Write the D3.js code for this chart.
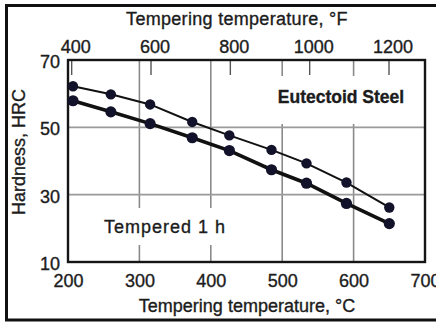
<!DOCTYPE html>
<html lang="en">
<head>
<meta charset="UTF-8">
<title>Eutectoid Steel tempering</title>
<script src="https://d3js.org/d3.v7.min.js"></script>
<style>
    body { margin: 0; background: #fff; }
    svg text { font-family: "Liberation Sans", Arial, sans-serif; fill: #1c1c1c; stroke: #1c1c1c; stroke-width: 0.35px; }
    .tick text { font-size: 18px; }
    .title { font-size: 18px; }
</style>
</head>
<body>
<svg width="436" height="324"></svg>
<script>
    // temperatures (deg C) and hardness (HRC)
    const tempC = [207, 260, 315, 374, 426, 485, 534, 590, 650];
    const hrcUpper = [62.2, 59.8, 56.8, 51.6, 47.6, 43.3, 39.3, 33.6, 26.2];
    const hrcLower = [57.9, 54.6, 51.1, 46.9, 43.1, 37.4, 33.4, 27.4, 21.4];

    const ticksC = [200, 300, 400, 500, 600, 700];
    const ticksF = [400, 600, 800, 1000, 1200];
    const ticksHRC = [10, 30, 50, 70];
    const gridC = [300, 400, 500, 600];
    const gridHRC = [30, 50];

    const svg = d3.select("svg");

    // outer frame of the figure
    svg.append("rect")
        .attr("x", 6.5).attr("y", 5.5).attr("width", 440).attr("height", 314.5)
        .attr("fill", "none").attr("stroke", "#111").attr("stroke-width", 3);

    const x = d3.scaleLinear().domain([200, 700]).range([68, 425]);
    const y = d3.scaleLinear().domain([10, 70]).range([262, 60]);
    const xF = d3.scaleLinear().domain([200 * 9 / 5 + 32, 700 * 9 / 5 + 32]).range([68, 425]);

    // grid
    svg.append("g").selectAll("line").data(gridC).enter().append("line")
        .attr("x1", d => x(d)).attr("x2", d => x(d))
        .attr("y1", y(70)).attr("y2", y(10))
        .attr("stroke", "#8a8a8a").attr("stroke-width", 1.6);
    svg.append("g").selectAll("line").data(gridHRC).enter().append("line")
        .attr("x1", x(200)).attr("x2", x(700))
        .attr("y1", d => y(d)).attr("y2", d => y(d))
        .attr("stroke", "#9a9a9a").attr("stroke-width", 1.8);

    // white boxes behind the notes
    svg.append("rect").attr("x", 262).attr("y", 76).attr("width", 156).attr("height", 48).attr("fill", "#fff");
    svg.append("rect").attr("x", 98).attr("y", 208).attr("width", 134).attr("height", 37).attr("fill", "#fff");

    // axes
    svg.append("g").attr("transform", "translate(0,262)")
        .call(d3.axisBottom(x).tickValues(ticksC).tickSize(0).tickPadding(12).tickFormat(d3.format("d")))
        .call(g => g.select(".domain").remove());
    svg.append("g").attr("transform", "translate(68,0)")
        .call(d3.axisLeft(y).tickValues(ticksHRC).tickSize(0).tickPadding(8))
        .call(g => g.select(".domain").remove())
        .call(g => g.selectAll(".tick text").attr("dy", "0.42em"));
    svg.append("g").attr("transform", "translate(0,60)")
        .call(d3.axisTop(xF).tickValues(ticksF).tickSize(-15).tickPadding(7).tickFormat(d3.format("d")))
        .call(g => g.select(".domain").remove())
        .call(g => g.selectAll(".tick text").attr("dx", 4))
        .call(g => g.selectAll(".tick line").attr("stroke", "#555").attr("stroke-width", 1.4));

    // plot frame
    svg.append("rect")
        .attr("x", x(200)).attr("y", y(70))
        .attr("width", x(700) - x(200)).attr("height", y(10) - y(70))
        .attr("fill", "none").attr("stroke", "#151515").attr("stroke-width", 2.4);

    // series
    const series = [
        { values: hrcUpper, width: 2, r: 5.2 },
        { values: hrcLower, width: 3.6, r: 5.6 }
    ];
    const line = d3.line().x(d => x(d[0])).y(d => y(d[1]));
    series.forEach(s => {
        const pts = tempC.map((t, i) => [t, s.values[i]]);
        svg.append("path").datum(pts)
            .attr("d", line)
            .attr("fill", "none").attr("stroke", "#111").attr("stroke-width", s.width);
        svg.append("g").selectAll("circle").data(pts).enter().append("circle")
            .attr("cx", d => x(d[0])).attr("cy", d => y(d[1])).attr("r", s.r)
            .attr("fill", "#12122a");
    });

    // titles and notes
    svg.append("text").attr("class", "title")
        .attr("x", 237).attr("y", 25).attr("text-anchor", "middle")
        .attr("letter-spacing", "0.3px")
        .text("Tempering temperature, °F");
    svg.append("text").attr("class", "title")
        .attr("x", 247).attr("y", 312).attr("text-anchor", "middle")
        .attr("font-size", "19.5px")
        .text("Tempering temperature, °C");
    svg.append("text").attr("class", "title")
        .attr("transform", "translate(25,152) rotate(-90)").attr("text-anchor", "middle")
        .attr("font-size", "17px")
        .text("Hardness, HRC");
    svg.append("text")
        .attr("x", 341).attr("y", 103).attr("text-anchor", "middle")
        .attr("font-size", "17.5px").attr("font-weight", "bold").attr("stroke-width", 0)
        .text("Eutectoid Steel");
    svg.append("text")
        .attr("x", 165).attr("y", 233).attr("text-anchor", "middle")
        .attr("font-size", "18px").attr("letter-spacing", "1px")
        .text("Tempered 1 h");
</script>
</body>
</html>
